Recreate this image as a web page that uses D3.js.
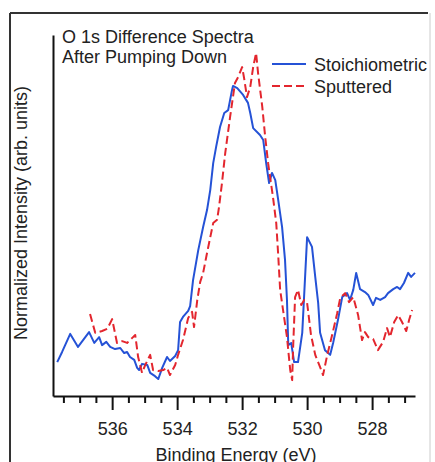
<!DOCTYPE html>
<html>
<head>
<meta charset="utf-8">
<script src="https://cdn.jsdelivr.net/npm/d3@7"></script>
<style>
  html, body { margin: 0; padding: 0; background: #fff; }
  svg { display: block; }
  text { font-family: "Liberation Sans", Arial, Helvetica, sans-serif; fill: #222; }
</style>
</head>
<body>
<svg id="chart" width="435" height="462"></svg>
<script>
// ---- Data (binding energy in eV, normalized intensity in arb. units 0-100) ----
const stoichEnergy = [537.69,537.54,537.29,537.05,536.71,536.55,536.40,536.31,536.18,536.06,535.91,535.75,535.63,535.54,535.45,535.32,535.23,535.17,535.08,534.92,534.83,534.68,534.58,534.46,534.31,534.22,534.06,533.97,533.91,533.82,533.66,533.60,533.51,533.35,533.20,533.08,532.98,532.89,532.80,532.68,532.55,532.43,532.31,532.28,532.15,531.97,531.82,531.75,531.66,531.45,531.35,531.26,531.17,531.08,530.98,530.89,530.77,530.68,530.62,530.58,530.49,530.40,530.28,530.15,530.00,529.85,529.75,529.66,529.60,529.45,529.29,529.20,529.05,528.92,528.77,528.68,528.58,528.49,528.37,528.22,528.12,527.97,527.88,527.75,527.60,527.51,527.35,527.23,527.14,527.02,526.89,526.80,526.68];
const stoichIntensity = [9.4,12.2,17.2,13.6,17.7,14.7,16.3,14.1,15.0,13.6,13.0,13.3,11.9,12.2,10.8,10.0,7.8,7.2,8.9,8.6,6.4,5.5,4.7,7.8,10.8,9.7,11.1,12.7,20.5,21.9,23.6,24.9,32.1,40.4,46.8,51.5,57.1,64.5,69.0,74.5,78.4,79.2,84.8,85.9,85.3,83.4,81.2,78.4,74.2,72.3,70.9,64.5,59.0,61.8,59.8,54.3,46.8,37.7,26.6,14.1,14.7,9.4,9.4,17.5,44.0,41.3,33.0,25.8,17.5,12.7,11.4,14.7,21.1,27.4,28.5,26.6,29.4,34.1,29.6,28.8,28.0,25.2,27.2,26.6,27.4,28.5,29.6,30.2,29.6,31.3,34.1,33.0,34.1];

const sputEnergy = [536.68,536.52,536.31,536.15,536.00,535.85,535.69,535.54,535.38,535.29,535.20,535.08,534.98,534.83,534.74,534.58,534.43,534.31,534.22,534.06,533.97,533.82,533.66,533.54,533.48,533.38,533.29,533.20,533.08,532.98,532.89,532.77,532.71,532.62,532.52,532.37,532.22,532.12,532.00,531.94,531.85,531.75,531.66,531.57,531.51,531.38,531.29,531.20,531.14,531.05,530.95,530.89,530.83,530.74,530.62,530.52,530.46,530.43,530.37,530.28,530.18,530.09,530.00,529.88,529.75,529.60,529.51,529.38,529.23,529.08,528.98,528.83,528.71,528.58,528.43,528.31,528.22,528.12,527.97,527.82,527.66,527.54,527.45,527.32,527.20,527.08,526.95,526.86,526.77];
const sputIntensity = [22.7,17.5,18.0,18.6,21.3,14.7,15.2,14.7,16.1,16.9,10.8,6.4,8.6,11.4,7.2,6.9,7.2,7.8,5.8,8.6,11.4,15.5,21.6,23.3,19.1,26.6,31.6,34.1,39.6,44.0,47.9,48.8,52.4,59.0,67.3,77.3,86.7,88.4,91.1,88.1,82.8,85.6,91.1,95.0,89.5,80.1,71.8,64.5,60.7,55.1,47.9,39.1,29.4,23.8,16.3,7.2,4.4,13.6,27.4,29.4,25.2,26.6,25.8,16.9,11.4,8.0,5.8,11.4,16.9,22.7,27.2,28.5,26.0,27.4,22.4,15.5,17.7,16.3,15.8,12.7,15.0,18.8,16.3,20.5,22.4,20.5,18.0,21.1,23.8];

const majorTicks = [536, 534, 532, 530, 528];
const minorTicks = [537.5,537,536.5,535.5,535,534.5,533.5,533,532.5,531.5,531,530.5,529.5,529,528.5,527.5,527];
const seriesNames = ["Stoichiometric", "Sputtered"];
const titleLines = ["O 1s Difference Spectra", "After Pumping Down"];
const xLabel = "Binding Energy (eV)";
const yLabel = "Normalized Intensity (arb. units)";

// ---- Drawing ----
const svg = d3.select("#chart");
const blue = "#2552d6";
const red = "#e3262e";

// outer frame
svg.append("line").attr("x1", 10).attr("y1", 13).attr("x2", 428).attr("y2", 13)
  .attr("stroke", "#333").attr("stroke-width", 2);
svg.append("line").attr("x1", 10).attr("y1", 13).attr("x2", 10).attr("y2", 470)
  .attr("stroke", "#333").attr("stroke-width", 2);
svg.append("line").attr("x1", 430).attr("y1", 13).attr("x2", 430).attr("y2", 470)
  .attr("stroke", "#ccc").attr("stroke-width", 1);

const x = d3.scaleLinear().domain([537.82, 526.68]).range([53, 415]);
const y = d3.scaleLinear().domain([0, 100]).range([396, 35]);

// x axis major
const gx = svg.append("g").attr("transform", "translate(0,396)")
  .call(d3.axisBottom(x).tickValues(majorTicks).tickSize(14).tickSizeOuter(0).tickFormat(d3.format("d")));
gx.select(".domain").attr("stroke", "#111").attr("stroke-width", 2);
gx.selectAll(".tick line").attr("stroke", "#111").attr("stroke-width", 2);
gx.selectAll(".tick text").attr("y", 39).attr("dy", 0)
  .style("font-size", "18px").style("font-family", "'Liberation Sans', Arial, sans-serif").attr("fill", "#222");

// x axis minor
const gm = svg.append("g").attr("transform", "translate(0,396)")
  .call(d3.axisBottom(x).tickValues(minorTicks).tickSize(7).tickSizeOuter(0).tickFormat(""));
gm.select(".domain").remove();
gm.selectAll(".tick line").attr("stroke", "#111").attr("stroke-width", 2);

// y axis (no ticks)
const gy = svg.append("g").attr("transform", "translate(53,0)")
  .call(d3.axisLeft(y).tickValues([]).tickSizeOuter(0));
gy.select(".domain").attr("stroke", "#111").attr("stroke-width", 2);

// lines
const line = d3.line().x(d => x(d[0])).y(d => y(d[1]));
const stoich = stoichEnergy.map((e, i) => [e, stoichIntensity[i]]);
const sput = sputEnergy.map((e, i) => [e, sputIntensity[i]]);

svg.append("path").datum(stoich).attr("d", line)
  .attr("fill", "none").attr("stroke", blue).attr("stroke-width", 2).attr("stroke-linejoin", "round");
svg.append("path").datum(sput).attr("d", line)
  .attr("fill", "none").attr("stroke", red).attr("stroke-width", 2).attr("stroke-dasharray", "8,4").attr("stroke-linejoin", "round");

// title
svg.selectAll("text.title").data(titleLines).enter().append("text")
  .attr("class", "title").attr("x", 62).attr("y", (d, i) => 43 + i * 20)
  .style("font-size", "18px").text(d => d);

// legend
const legend = svg.append("g");
const legColors = [blue, red];
const legDash = [null, "8,4"];
seriesNames.forEach((name, i) => {
  const ly = 64 + i * 22;
  legend.append("line").attr("x1", 272).attr("x2", 306).attr("y1", ly).attr("y2", ly)
    .attr("stroke", legColors[i]).attr("stroke-width", 2).attr("stroke-dasharray", legDash[i]);
  legend.append("text").attr("x", 314).attr("y", ly + 7).style("font-size", "18px").text(name);
});

// axis labels
svg.append("text").attr("x", 236).attr("y", 461).attr("text-anchor", "middle")
  .style("font-size", "18px").text(xLabel);
svg.append("text").attr("transform", "translate(27,213) rotate(-90)").attr("text-anchor", "middle")
  .style("font-size", "18px").text(yLabel);
</script>
</body>
</html>
